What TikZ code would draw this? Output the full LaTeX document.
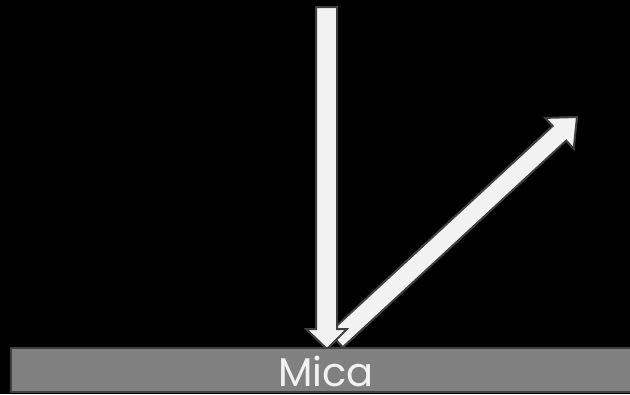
\documentclass[tikz,border=0pt]{standalone}
\usepackage{fontspec}
\setmainfont{Poppins}
\definecolor{arrowfill}{HTML}{F2F2F2}
\definecolor{edge}{HTML}{3F3F3F}
\definecolor{mica}{HTML}{808080}
\begin{document}
\begin{tikzpicture}[x=0.75pt,y=-0.75pt,
  arrowshape/.style={fill=arrowfill,draw=edge,line width=1.5pt,line join=miter},
  micabar/.style={fill=mica,draw=edge,line width=2.2pt}]
\fill[black] (0,0) rectangle (630,394);
\useasboundingbox (0,0) rectangle (630,394);
% reflected beam
\draw[arrowshape] (329.2,332.7) -- (552.6,126.0) -- (545.1,117.9) -- (577,117) -- (573.7,148.7) -- (566.2,140.6) -- (342.8,347.3) -- cycle;
% incident beam
\draw[arrowshape] (316,7) -- (337,7) -- (337,329) -- (347,329) -- (327,349) -- (306,329) -- (316,329) -- cycle;
% mica
\draw[micabar] (11,348) rectangle (634,392);
\node[text=arrowfill,inner sep=0pt,font=\fontsize{30}{30}\selectfont] (mica) at (326,371) {Mica};
\end{tikzpicture}
\end{document}
